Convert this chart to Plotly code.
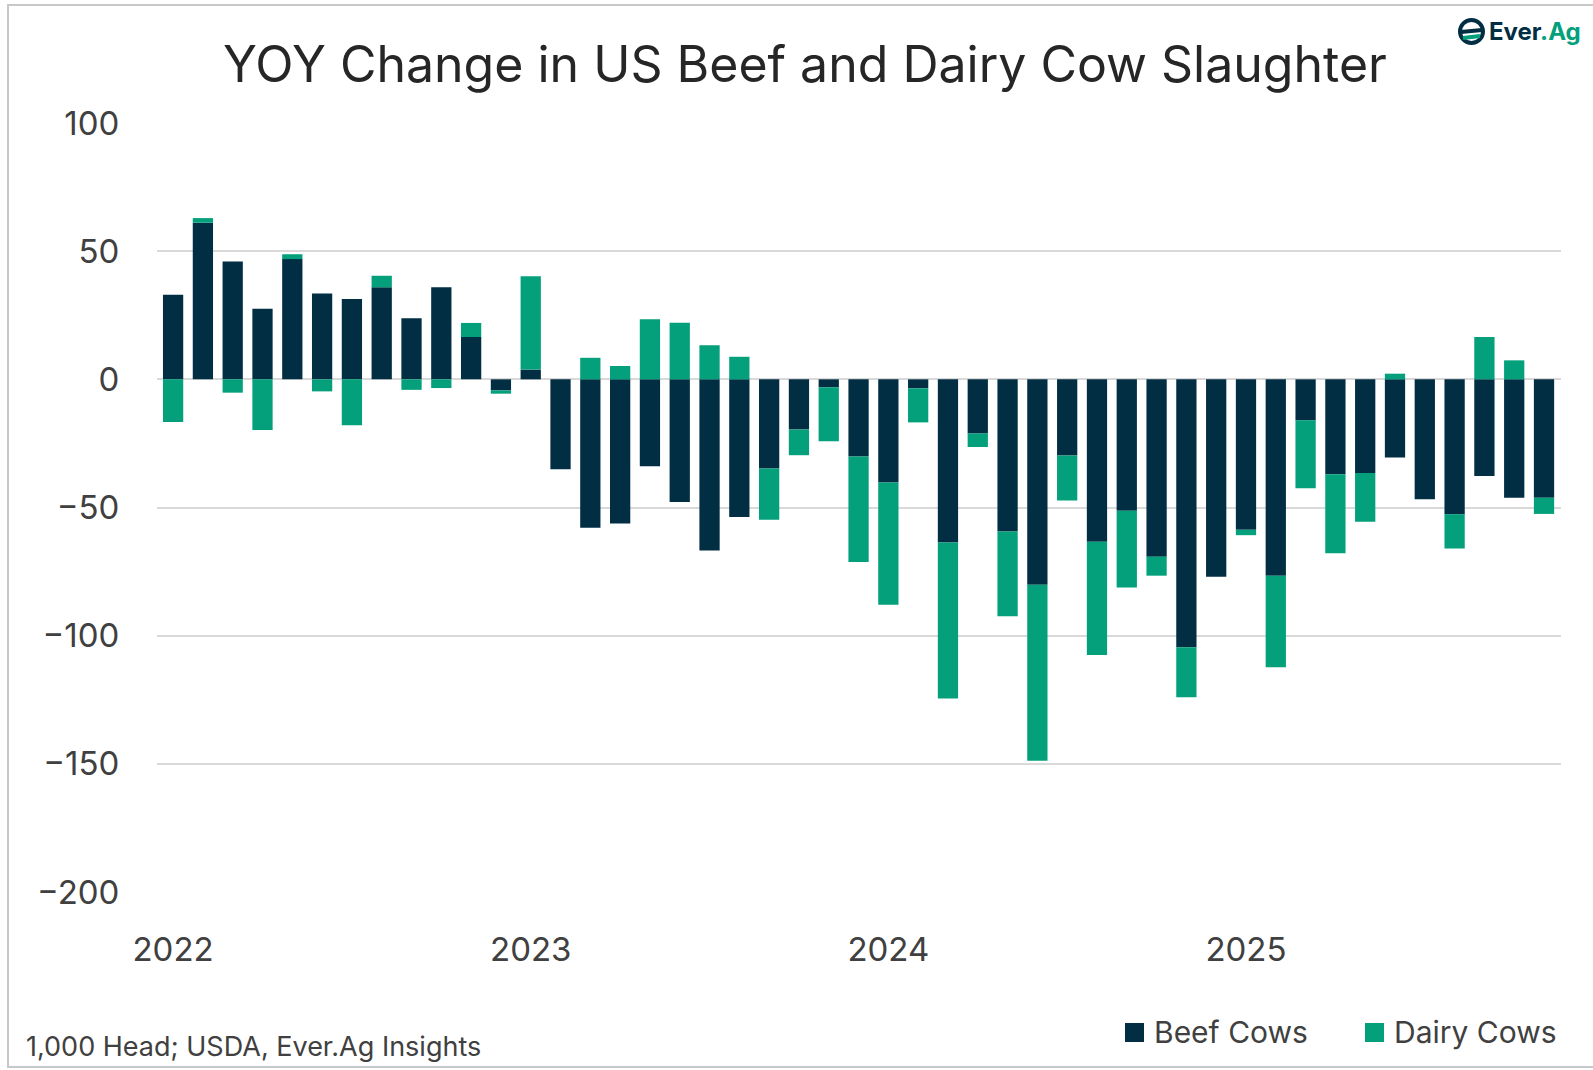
import plotly.graph_objects as go

# monthly YOY change, 1,000 head (Jan 2022 - Nov 2025)
months = [f"{y}-{m:02d}" for y in (2022, 2023, 2024, 2025) for m in range(1, 13)][:47]

beef_cows = [33.0, 61.1, 46.0, 27.5, 46.9, 33.5, 31.3, 35.9, 23.8, 35.9, 16.5, -4.3,
             3.8, -35.1, -57.9, -56.2, -33.9, -47.9, -66.8, -53.7, -34.8, -19.6, -3.1, -30.1,
             -40.2, -3.5, -63.7, -21.1, -59.4, -80.1, -29.7, -63.4, -51.3, -69.2, -104.5, -77.0,
             -58.7, -76.6, -16.0, -37.0, -36.5, -30.5, -46.8, -52.6, -37.7, -46.2, -46.2]
dairy_cows = [-16.6, 1.8, -5.2, -19.8, 1.9, -4.7, -17.9, 4.5, -4.1, -3.4, 5.5, -1.3,
              36.4, 0.0, 8.4, 5.2, 23.4, 22.1, 13.3, 8.8, -20.0, -10.0, -21.1, -41.2,
              -47.7, -13.3, -60.8, -5.3, -33.0, -68.7, -17.6, -44.1, -29.9, -7.4, -19.5, 0.0,
              -2.1, -35.7, -26.5, -30.8, -19.1, 2.2, 0.0, -13.4, 16.5, 7.4, -6.3]

year_ticks = ["2022-01", "2023-01", "2024-01", "2025-01"]
year_labels = ["2022", "2023", "2024", "2025"]
y_ticks = [100, 50, 0, -50, -100, -150, -200]

W, H = 1593, 1070
L, R, T, B = 157, 32, 123, 178
FONT = "Inter"
NAVY = "#012E43"
GREEN = "#03A07B"
TXT = "#404040"


def px_x(px):
    return (px - L) / (W - L - R)


def px_y(py):
    return (H - B - py) / (H - T - B)


fig = go.Figure()
fig.add_trace(go.Bar(x=months, y=beef_cows, name="Beef Cows",
                     marker=dict(color=NAVY, line=dict(width=0))))
fig.add_trace(go.Bar(x=months, y=dairy_cows, name="Dairy Cows",
                     marker=dict(color=GREEN, line=dict(width=0))))

fig.update_xaxes(
    type="category",
    range=[-0.54, 46.57],
    tickvals=year_ticks,
    ticktext=year_labels,
    ticks="outside", ticklen=28, tickcolor="rgba(0,0,0,0)",
    showgrid=False, showline=False, zeroline=False, automargin=False,
    tickfont=dict(family=FONT, size=33, color=TXT),
)
fig.update_yaxes(
    range=[-200, 100],
    tickvals=y_ticks,
    ticks="outside", ticklen=30, tickcolor="rgba(0,0,0,0)",
    showgrid=True, gridcolor="#D9D9D9", gridwidth=2,
    zeroline=True, zerolinecolor="#D9D9D9", zerolinewidth=2,
    showline=False, automargin=False,
    tickfont=dict(family=FONT, size=33, color=TXT),
)

# frame round the whole graphic
fig.add_shape(type="rect", xref="paper", yref="paper",
              x0=px_x(8), x1=px_x(1620), y0=px_y(1067), y1=px_y(5),
              line=dict(color="#C8C8C8", width=2), layer="below")

# Ever.Ag logo, top right
fig.add_shape(type="circle", xref="paper", yref="paper",
              x0=px_x(1460), x1=px_x(1483), y0=px_y(43), y1=px_y(20),
              line=dict(color=NAVY, width=4))
fig.add_shape(type="line", xref="paper", yref="paper",
              x0=px_x(1461), x1=px_x(1482), y0=px_y(32), y1=px_y(30),
              line=dict(color=NAVY, width=4))
fig.add_shape(type="line", xref="paper", yref="paper",
              x0=px_x(1463), x1=px_x(1480), y0=px_y(38), y1=px_y(36),
              line=dict(color=GREEN, width=4))
fig.add_annotation(
    x=px_x(1487), y=px_y(31), xref="paper", yref="paper",
    xanchor="left", yanchor="middle", showarrow=False,
    text=f"<b><span style='color:{NAVY}'>Ever</span><span style='color:{GREEN}'>.Ag</span></b>",
    font=dict(family=FONT, size=24),
)

fig.add_annotation(
    x=px_x(24), y=px_y(1046), xref="paper", yref="paper",
    xanchor="left", yanchor="middle", showarrow=False,
    text="1,000 Head; USDA, Ever.Ag Insights",
    font=dict(family=FONT, size=27, color=TXT),
)

# legend drawn by hand so the squares match the original size
for name, color, sq_x, txt_x in [("Beef Cows", NAVY, 1125, 1152),
                                 ("Dairy Cows", GREEN, 1365, 1392)]:
    fig.add_shape(type="rect", xref="paper", yref="paper",
                  x0=px_x(sq_x), x1=px_x(sq_x + 19), y0=px_y(1042), y1=px_y(1023),
                  fillcolor=color, line=dict(width=0))
    fig.add_annotation(
        x=px_x(txt_x), y=px_y(1032), xref="paper", yref="paper",
        xanchor="left", yanchor="middle", showarrow=False,
        text=name, font=dict(family=FONT, size=30, color=TXT),
    )

fig.update_layout(
    width=W, height=H,
    barmode="relative",
    bargap=0.32,
    title=dict(text="YOY Change in US Beef and Dairy Cow Slaughter",
               x=805 / W, y=1 - 64 / H, xanchor="center", yanchor="middle",
               font=dict(family=FONT, size=50, color="#262626")),
    showlegend=False,
    margin=dict(l=L, r=R, t=T, b=B, autoexpand=False),
    plot_bgcolor="white",
    paper_bgcolor="white",
)

fig.write_html("out.html", config={"displayModeBar": False},
               post_script="document.body.style.margin='0';")
